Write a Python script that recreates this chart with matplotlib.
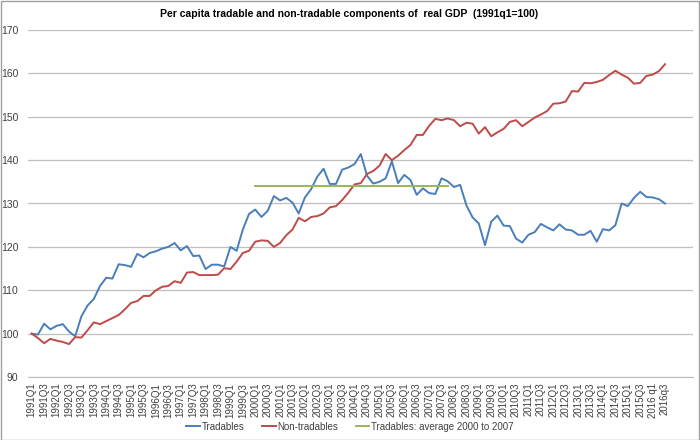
import matplotlib.pyplot as plt
from matplotlib.patches import Rectangle

# Datos (1991Q1 a 2016q3)
anios = list(range(1991, 2017))
trimestres = [f"{a}Q{q}" for a in anios for q in (1, 2, 3, 4)][:103]
trimestres[100] = "2016 q1"
trimestres[102] = "2016q3"

transables = [100.0, 99.8, 102.3, 101.0, 101.8, 102.2, 100.5, 99.4, 104.0, 106.5,
              108.0, 111.0, 112.9, 112.7, 116.0, 115.8, 115.4, 118.4, 117.6, 118.6,
              119.0, 119.6, 120.0, 120.9, 119.2, 120.2, 117.9, 118.0, 114.9, 115.9,
              115.9, 115.5, 120.0, 119.1, 124.0, 127.6, 128.6, 126.9, 128.3, 131.7,
              130.7, 131.3, 130.2, 127.7, 131.4, 133.3, 136.2, 138.0, 134.5, 134.5,
              137.8, 138.3, 139.1, 141.4, 136.4, 134.6, 135.0, 135.8, 139.7, 134.7,
              136.6, 135.4, 132.0, 133.5, 132.4, 132.2, 135.8, 135.1, 133.8, 134.3,
              129.6, 126.8, 125.4, 120.4, 125.8, 127.2, 124.9, 124.8, 121.9, 121.0,
              122.8, 123.4, 125.3, 124.5, 123.8, 125.2, 124.0, 123.8, 122.8, 122.8,
              123.7, 121.2, 124.1, 123.8, 125.0, 130.0, 129.4, 131.3, 132.7, 131.5,
              131.4, 131.0, 130.0]

no_transables = [100.0, 99.0, 97.8, 98.8, 98.4, 98.1, 97.6, 99.2, 99.1, 100.8,
                 102.6, 102.2, 102.9, 103.6, 104.3, 105.6, 107.1, 107.5, 108.7, 108.7,
                 110.0, 110.8, 111.0, 112.1, 111.7, 114.1, 114.2, 113.5, 113.5, 113.5,
                 113.6, 115.1, 114.9, 116.6, 118.6, 119.1, 121.2, 121.5, 121.4, 120.0,
                 120.9, 122.7, 124.0, 126.7, 125.9, 126.9, 127.1, 127.7, 129.1, 129.4,
                 130.8, 132.5, 134.4, 134.7, 136.8, 137.5, 138.7, 141.4, 140.0, 141.0,
                 142.3, 143.5, 145.8, 145.8, 147.9, 149.5, 149.2, 149.6, 149.2, 147.8,
                 148.6, 148.4, 146.1, 147.6, 145.5, 146.4, 147.2, 148.8, 149.2, 147.8,
                 148.8, 149.8, 150.5, 151.3, 153.0, 153.1, 153.5, 155.9, 155.8, 157.8,
                 157.7, 158.0, 158.5, 159.6, 160.6, 159.7, 159.0, 157.6, 157.8, 159.4,
                 159.7, 160.5, 162.1]

# Promedio de transables 2000 a 2007 (2000Q1 .. 2007Q4)
promedio = 134.0
inicio_prom = trimestres.index("2000Q1")
fin_prom = trimestres.index("2007Q4")

plt.rcParams['font.family'] = ['Liberation Sans', 'DejaVu Sans']

fig = plt.figure(figsize=(7, 4.4), dpi=100)
ax = fig.add_axes([0.04, 0.143, 0.95, 0.789])

x = list(range(len(trimestres)))
ax.plot(x, transables, color='#4A7EBB', lw=1.4, label='Tradables')
ax.plot(x, no_transables, color='#BE4B48', lw=1.4, label='Non-tradables')
x_prom = x[inicio_prom:fin_prom + 1]
ax.plot(x_prom, [promedio] * len(x_prom), color='#98B954', lw=1.4,
        label='Tradables: average 2000 to 2007')

ax.set_ylim(90, 170)
ax.set_yticks(range(90, 171, 10))
ax.set_xlim(-0.6, 106.5)
ax.set_xticks(x[::2])
ax.set_xticklabels(trimestres[::2], rotation=90, fontsize=7, color='#404040')
ax.tick_params(axis='y', labelsize=7.5, labelcolor='#404040', length=0, pad=7)
ax.tick_params(axis='x', length=0, pad=4)

ax.grid(axis='y', color='#BFBFBF', lw=0.9)
ax.set_axisbelow(True)
for s in ['top', 'right', 'left']:
    ax.spines[s].set_visible(False)
ax.spines['bottom'].set_color('#BFBFBF')

fig.text(0.499, 0.968, 'Per capita tradable and non-tradable components of  real GDP  (1991q1=100)',
         ha='center', va='center', fontsize=7.5, fontweight='bold')

fig.legend(loc='center', bbox_to_anchor=(0.5, 0.03), ncol=3, frameon=False,
           fontsize=7, handlelength=1.4, columnspacing=1.8, handletextpad=0.2,
           labelcolor='#404040')

fig.patches.append(Rectangle((0.001, 0.001), 0.997, 0.997, transform=fig.transFigure,
                             fill=False, edgecolor='#A0A0A0', lw=1))

fig.savefig('out.png', dpi=100)
